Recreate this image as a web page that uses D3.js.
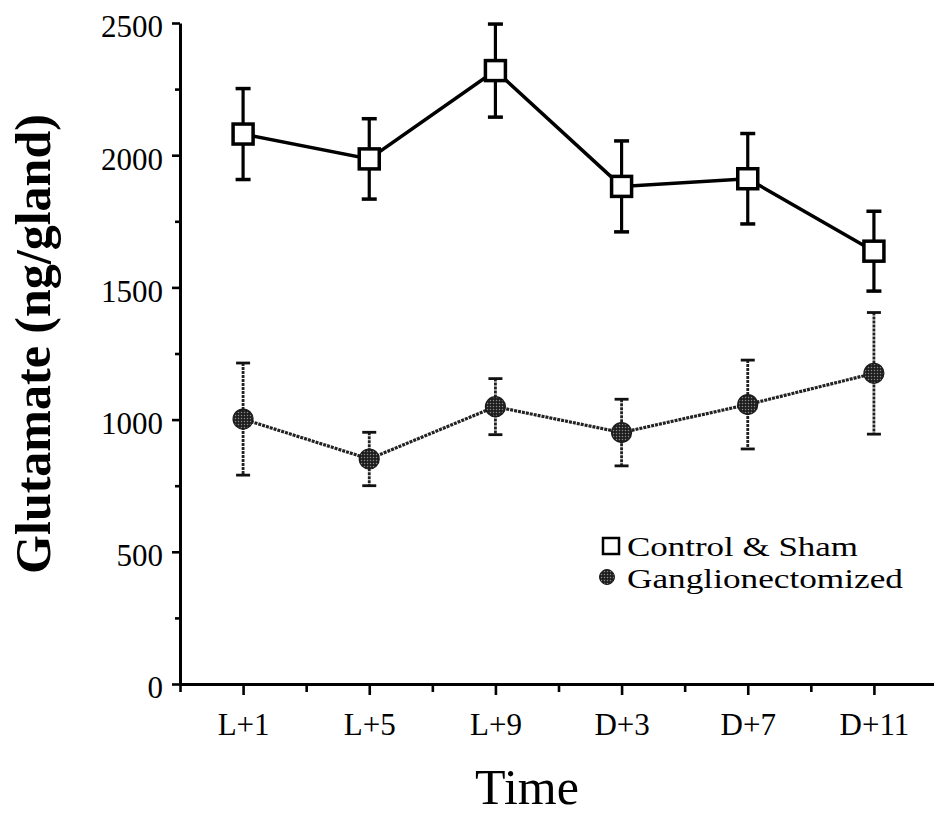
<!DOCTYPE html>
<html>
<head>
<meta charset="utf-8">
<script src="https://cdn.jsdelivr.net/npm/d3@7"></script>
<style>
  html, body { margin: 0; padding: 0; background: #fff; }
  svg { display: block; }
</style>
</head>
<body>
<div id="chart"></div>
<script>
// ---- data ----
const categories = ["L+1", "L+5", "L+9", "D+3", "D+7", "D+11"];
const controlMean = [2080, 1986, 2320, 1882, 1911, 1637];
const controlSE   = [172, 152, 176, 172, 171, 151];
const gangMean    = [1002, 851, 1049, 951, 1057, 1175];
const gangSE      = [212, 101, 106, 126, 168, 230];
const yTicks      = [0, 500, 1000, 1500, 2000, 2500];
const yMinorTicks = [250, 750, 1250, 1750, 2250];
const seriesNames = ["Control & Sham", "Ganglionectomized"];

const W = 934, H = 819;
const FONT = "'Liberation Serif', 'Times New Roman', serif";

const svg = d3.select("#chart").append("svg")
  .attr("width", W).attr("height", H)
  .attr("font-family", FONT);

const defs = svg.append("defs");
const pat = defs.append("pattern").attr("id", "stipple")
  .attr("width", 3).attr("height", 3).attr("patternUnits", "userSpaceOnUse");
pat.append("rect").attr("width", 3).attr("height", 3).attr("fill", "#1e1e1e");
pat.append("circle").attr("cx", 1.5).attr("cy", 1.5).attr("r", 0.75).attr("fill", "#8a8a8a");

const x = d3.scaleLinear().domain([-0.5, 5.5]).range([180, 937]);
const y = d3.scaleLinear().domain([0, 2500]).range([684, 23]);

// ---- axes ----
const axisStyle = g => {
  g.selectAll("path.domain").attr("stroke", "#000").attr("stroke-width", 3);
  g.selectAll(".tick line").attr("stroke", "#000").attr("stroke-width", 2.6);
};

// y minor
svg.append("g").attr("transform", `translate(${x(-0.5)},0)`)
  .call(d3.axisLeft(y).tickValues(yMinorTicks).tickSize(5).tickFormat(""))
  .call(g => g.select("path.domain").remove())
  .call(axisStyle);
// y major
svg.append("g").attr("transform", `translate(${x(-0.5)},0)`)
  .call(d3.axisLeft(y).tickValues(yTicks).tickSize(8).tickSizeOuter(0).tickPadding(9)
    .tickFormat(d3.format("d")))
  .call(axisStyle)
  .call(g => g.selectAll(".tick text")
    .attr("font-size", 31).attr("font-family", FONT).attr("fill", "#000")
    .attr("dy", "0.45em"));

// x minor
svg.append("g").attr("transform", `translate(0,${y(0)})`)
  .call(d3.axisBottom(x).tickValues([-0.5, 0.5, 1.5, 2.5, 3.5, 4.5]).tickSize(8).tickFormat(""))
  .call(g => g.select("path.domain").remove())
  .call(axisStyle);
// x major
svg.append("g").attr("transform", `translate(0,${y(0)})`)
  .call(d3.axisBottom(x).tickValues(d3.range(categories.length)).tickSize(11).tickSizeOuter(0)
    .tickPadding(18).tickFormat(i => categories[i]))
  .call(axisStyle)
  .call(g => g.selectAll(".tick text")
    .attr("font-size", 31).attr("font-family", FONT).attr("fill", "#000"));

// axis titles
svg.append("text")
  .attr("transform", `translate(50,344) rotate(-90)`)
  .attr("text-anchor", "middle")
  .attr("font-size", 50).attr("font-weight", "bold")
  .text("Glutamate (ng/gland)");

svg.append("text")
  .attr("x", 527).attr("y", 804)
  .attr("text-anchor", "middle")
  .attr("font-size", 50)
  .text("Time");

// ---- series ----
const ctrl = categories.map((c, i) => ({ i, m: controlMean[i], e: controlSE[i] }));
const gang = categories.map((c, i) => ({ i, m: gangMean[i], e: gangSE[i] }));
const line = d3.line().x(d => x(d.i)).y(d => y(d.m));

// ganglionectomized
svg.append("path").datum(gang).attr("d", line)
  .attr("fill", "none").attr("stroke", "#222").attr("stroke-width", 3.2)
  .attr("stroke-dasharray", "3 1");
const ge = svg.append("g").selectAll("g").data(gang).join("g");
ge.append("line").attr("x1", d => x(d.i)).attr("x2", d => x(d.i))
  .attr("y1", d => y(d.m + d.e)).attr("y2", d => y(d.m - d.e))
  .attr("stroke", "#222").attr("stroke-width", 2.8).attr("stroke-dasharray", "3 1");
ge.selectAll("line.cap").data(d => [d.m + d.e, d.m - d.e].map(v => ({ i: d.i, v })))
  .join("line").attr("class", "cap")
  .attr("x1", d => x(d.i) - 7).attr("x2", d => x(d.i) + 7)
  .attr("y1", d => y(d.v)).attr("y2", d => y(d.v))
  .attr("stroke", "#111").attr("stroke-width", 2.8);
svg.append("g").selectAll("circle").data(gang).join("circle")
  .attr("cx", d => x(d.i)).attr("cy", d => y(d.m)).attr("r", 10)
  .attr("fill", "url(#stipple)").attr("stroke", "#1a1a1a").attr("stroke-width", 1.2);

// control
svg.append("path").datum(ctrl).attr("d", line)
  .attr("fill", "none").attr("stroke", "#000").attr("stroke-width", 3.5);
const ce = svg.append("g").selectAll("g").data(ctrl).join("g");
ce.append("line").attr("x1", d => x(d.i)).attr("x2", d => x(d.i))
  .attr("y1", d => y(d.m + d.e)).attr("y2", d => y(d.m - d.e))
  .attr("stroke", "#000").attr("stroke-width", 3.2);
ce.selectAll("line.cap").data(d => [d.m + d.e, d.m - d.e].map(v => ({ i: d.i, v })))
  .join("line").attr("class", "cap")
  .attr("x1", d => x(d.i) - 7.5).attr("x2", d => x(d.i) + 7.5)
  .attr("y1", d => y(d.v)).attr("y2", d => y(d.v))
  .attr("stroke", "#000").attr("stroke-width", 3.5);
svg.append("g").selectAll("rect").data(ctrl).join("rect")
  .attr("x", d => x(d.i) - 10).attr("y", d => y(d.m) - 10)
  .attr("width", 20).attr("height", 20)
  .attr("fill", "#fff").attr("stroke", "#000").attr("stroke-width", 3.5);

// ---- legend ----
const lg = svg.append("g");
lg.append("rect").attr("x", 603).attr("y", 538).attr("width", 16).attr("height", 16)
  .attr("fill", "#fff").attr("stroke", "#000").attr("stroke-width", 2.5);
lg.append("circle").attr("cx", 607).attr("cy", 577).attr("r", 7.5)
  .attr("fill", "url(#stipple)").attr("stroke", "#1a1a1a").attr("stroke-width", 1);
lg.append("text").attr("x", 627).attr("y", 556).attr("font-size", 28)
  .attr("textLength", 231).attr("lengthAdjust", "spacingAndGlyphs").text(seriesNames[0]);
lg.append("text").attr("x", 627).attr("y", 588).attr("font-size", 28)
  .attr("textLength", 276).attr("lengthAdjust", "spacingAndGlyphs").text(seriesNames[1]);
</script>
</body>
</html>
